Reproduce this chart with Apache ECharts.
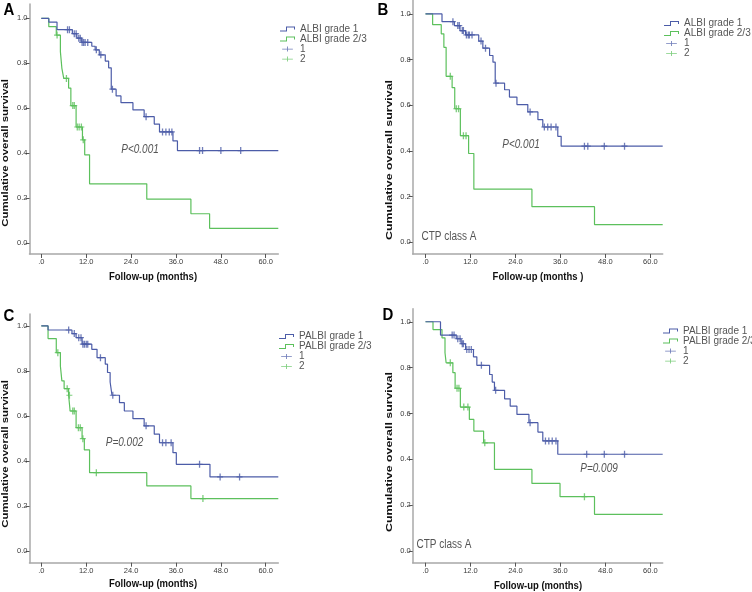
<!DOCTYPE html>
<html><head><meta charset="utf-8">
<script src="https://cdn.jsdelivr.net/npm/echarts@6/dist/echarts.min.js"></script>
<style>html,body{margin:0;padding:0;background:#fff}#c{width:752px;height:592px}</style>
</head><body><div id="c"></div>
<script>
// ---------- tick labels ----------
const xTicks = [0, 12, 24, 36, 48, 60];
const yTicks = [0, 0.2, 0.4, 0.6, 0.8, 1.0];

// ---------- Panel A (ALBI) ----------
const A_g1_t = [0, 2.0, 4.2, 8.3, 9.5, 10.8, 13.5, 14.4, 15.5, 17.1, 18.0, 18.7, 20.0, 21.3, 24.5, 27.5, 30.2, 31.6, 35.2, 36.4];
const A_g1_s = [1.0, 0.983, 0.95, 0.932, 0.912, 0.893, 0.876, 0.86, 0.838, 0.81, 0.78, 0.685, 0.655, 0.625, 0.593, 0.563, 0.53, 0.495, 0.455, 0.412];
const A_g1_ct = [7.0, 7.5, 8.8, 9.3, 10.0, 10.4, 10.9, 11.3, 11.7, 12.4, 14.7, 15.9, 19.0, 28.0, 32.4, 33.3, 34.2, 34.9, 42.3, 43.1, 48.0, 53.3];
const A_g1_cs = [0.95, 0.95, 0.932, 0.932, 0.912, 0.912, 0.893, 0.893, 0.893, 0.893, 0.86, 0.838, 0.685, 0.563, 0.495, 0.495, 0.495, 0.495, 0.412, 0.412, 0.412, 0.412];
const A_g2_t = [0, 2.0, 4.0, 5.1, 5.5, 6.0, 7.3, 7.9, 9.3, 11.0, 11.6, 12.9, 28.2, 40.0, 45.0];
const A_g2_s = [1.0, 0.963, 0.926, 0.852, 0.778, 0.733, 0.69, 0.612, 0.517, 0.46, 0.393, 0.264, 0.196, 0.131, 0.066];
const A_g2_ct = [4.2, 6.7, 8.4, 8.8, 9.6, 10.1, 10.7, 11.2];
const A_g2_cs = [0.926, 0.733, 0.612, 0.612, 0.517, 0.517, 0.517, 0.46];

// ---------- Panel B (ALBI, CTP class A) ----------
const B_g1_t = [0, 4.4, 7.7, 9.2, 10.7, 14.2, 15.3, 17.1, 18.0, 18.6, 21.1, 22.4, 24.4, 27.3, 30.0, 31.3, 35.3, 36.2];
const B_g1_s = [1.0, 0.966, 0.949, 0.927, 0.908, 0.881, 0.85, 0.818, 0.789, 0.697, 0.668, 0.636, 0.603, 0.571, 0.537, 0.505, 0.464, 0.421];
const B_g1_ct = [7.3, 8.6, 9.0, 9.8, 10.1, 10.9, 11.4, 11.7, 12.4, 14.8, 16.0, 18.8, 27.9, 31.7, 32.6, 33.5, 34.8, 42.4, 43.3, 47.7, 53.1];
const B_g1_cs = [0.966, 0.949, 0.949, 0.927, 0.927, 0.908, 0.908, 0.908, 0.908, 0.881, 0.85, 0.697, 0.571, 0.505, 0.505, 0.505, 0.505, 0.421, 0.421, 0.421, 0.421];
const B_g2_t = [0, 1.9, 4.2, 4.9, 5.5, 7.1, 7.8, 9.3, 11.5, 12.9, 28.4, 45.1];
const B_g2_s = [1.0, 0.953, 0.913, 0.854, 0.727, 0.677, 0.585, 0.467, 0.389, 0.233, 0.156, 0.078];
const B_g2_ct = [6.6, 8.2, 8.8, 10.1, 10.8];
const B_g2_cs = [0.727, 0.585, 0.585, 0.467, 0.467];

// ---------- Panel C (PALBI) ----------
const C_g1_t = [0, 1.8, 8.2, 9.3, 10.9, 13.5, 14.9, 17.1, 17.7, 18.4, 18.9, 20.9, 22.2, 24.5, 27.5, 30.2, 31.6, 35.2, 36.1, 45.1];
const C_g1_s = [1.0, 0.982, 0.966, 0.948, 0.919, 0.896, 0.859, 0.83, 0.793, 0.751, 0.692, 0.659, 0.622, 0.588, 0.556, 0.519, 0.481, 0.437, 0.385, 0.329];
const C_g1_ct = [7.3, 8.8, 10.0, 10.6, 11.1, 11.5, 12.0, 12.4, 15.8, 19.1, 28.0, 32.4, 33.3, 34.7, 42.3, 47.8, 53.0];
const C_g1_cs = [0.982, 0.966, 0.948, 0.948, 0.919, 0.919, 0.919, 0.919, 0.859, 0.692, 0.556, 0.481, 0.481, 0.481, 0.385, 0.329, 0.329];
const C_g2_t = [0, 1.8, 4.0, 5.1, 5.5, 6.1, 7.3, 7.7, 9.3, 10.9, 11.5, 12.9, 28.2, 40.0];
const C_g2_s = [1.0, 0.944, 0.881, 0.822, 0.756, 0.721, 0.692, 0.622, 0.548, 0.499, 0.449, 0.348, 0.289, 0.233];
const C_g2_ct = [4.4, 6.9, 7.5, 8.4, 8.8, 9.9, 10.4, 11.1, 14.7, 43.2];
const C_g2_cs = [0.881, 0.721, 0.692, 0.622, 0.622, 0.548, 0.548, 0.499, 0.348, 0.233];

// ---------- Panel D (PALBI, CTP class A) ----------
const D_g1_t = [0, 4.0, 8.2, 9.5, 10.7, 12.8, 13.7, 17.1, 17.8, 18.4, 21.1, 22.6, 24.4, 27.6, 30.0, 31.3, 35.3];
const D_g1_s = [1.0, 0.942, 0.926, 0.904, 0.879, 0.847, 0.81, 0.77, 0.737, 0.701, 0.664, 0.632, 0.596, 0.56, 0.519, 0.48, 0.422];
const D_g1_ct = [7.1, 7.6, 8.6, 9.2, 9.8, 10.1, 11.0, 11.6, 12.2, 14.9, 18.7, 27.9, 32.0, 32.9, 33.8, 34.8, 43.0, 47.7, 53.1];
const D_g1_cs = [0.942, 0.942, 0.926, 0.926, 0.904, 0.904, 0.879, 0.879, 0.879, 0.81, 0.701, 0.56, 0.48, 0.48, 0.48, 0.48, 0.422, 0.422, 0.422];
const D_g2_t = [0, 2.0, 4.4, 5.2, 5.5, 7.3, 7.9, 9.3, 11.7, 12.9, 15.5, 18.4, 28.4, 35.9, 45.1];
const D_g2_s = [1.0, 0.966, 0.93, 0.865, 0.821, 0.778, 0.71, 0.628, 0.574, 0.523, 0.472, 0.356, 0.295, 0.237, 0.16];
const D_g2_ct = [6.6, 8.4, 8.9, 10.2, 11.3, 15.8, 42.4];
const D_g2_cs = [0.821, 0.71, 0.71, 0.628, 0.628, 0.472, 0.237];

// ---------- labels ----------
const albiNames = ['ALBI grade 1', 'ALBI grade 2/3'];
const palbiNames = ['PALBI grade 1', 'PALBI grade 2/3'];
const censorNames = ['1', '2'];
const pTexts = { A: 'P<0.001', B: 'P<0.001', C: 'P=0.002', D: 'P=0.009' };
const xTitle = 'Follow-up (months)';
const xTitleB = 'Follow-up (months )';
const yTitle = 'Cumulative overall survival';
const ctpText = 'CTP class A';

// ---------- styling / layout ----------
const BLUE = '#4c5ca8';
const GREEN = '#5cc05c';
const FONT = 'Arial, "Liberation Sans", sans-serif';
const TXT = '#3a3a3a';
const plusSym = 'path://M2.4,0h1.3v7h-1.3z M0,2.9h6v1.2h-6z';
const stepIcon = 'path://M0,4L6,4L6,0L15,0L15,3L14,3L14,1L7,1L7,5L0,5Z';
const plusIcon = 'path://M0,3h15v1.1h-15z M6.9,0h1.2v7h-1.2z';

const panels = [
  { key: 'A', grid: { left: 29.5, top: 4, width: 248.8, height: 250 }, xMin: -3.16, xMax: 63.37, yMin: -0.048, yMax: 1.064,
    names: albiNames, g1: [A_g1_t, A_g1_s, A_g1_ct, A_g1_cs], g2: [A_g2_t, A_g2_s, A_g2_ct, A_g2_cs],
    legend: { left: 280, top: 24 }, letter: [9, 10], p: [140, 150], xt: [153, 277, xTitle], yt: [5, 153, 1.2], ctp: null },
  { key: 'B', grid: { left: 412.7, top: 0, width: 250, height: 254 }, xMin: -3.42, xMax: 63.3, yMin: -0.051, yMax: 1.061,
    names: albiNames, g1: [B_g1_t, B_g1_s, B_g1_ct, B_g1_cs], g2: [B_g2_t, B_g2_s, B_g2_ct, B_g2_cs],
    legend: { left: 664, top: 18.5 }, letter: [383, 10], p: [521, 145], xt: [538, 277, xTitleB], yt: [389, 160, 1.3], ctp: [449, 237] },
  { key: 'C', grid: { left: 29.5, top: 314, width: 248.8, height: 248.7 }, xMin: -3.16, xMax: 63.37, yMin: -0.052, yMax: 1.053,
    names: palbiNames, g1: [C_g1_t, C_g1_s, C_g1_ct, C_g1_cs], g2: [C_g2_t, C_g2_s, C_g2_ct, C_g2_cs],
    legend: { left: 279, top: 331.5 }, letter: [9, 316], p: [124.5, 442.5], xt: [153, 584, xTitle], yt: [5, 454, 1.2], ctp: null },
  { key: 'D', grid: { left: 412.7, top: 308.7, width: 250, height: 254 }, xMin: -3.42, xMax: 63.3, yMin: -0.051, yMax: 1.057,
    names: palbiNames, g1: [D_g1_t, D_g1_s, D_g1_ct, D_g1_cs], g2: [D_g2_t, D_g2_s, D_g2_ct, D_g2_cs],
    legend: { left: 663, top: 326 }, letter: [388, 315], p: [599, 469], xt: [538, 586, xTitle], yt: [389, 452, 1.3], ctp: [444, 545] }
];

const zip = (a, b) => a.map((v, i) => [v, b[i]]);

const grids = [], xAxes = [], yAxes = [], series = [], legends = [], graphics = [];
panels.forEach((p, i) => {
  grids.push(Object.assign({ outerBoundsMode: 'none', containLabel: false }, p.grid));
  xAxes.push({
    type: 'value', gridIndex: i, min: p.xMin, max: p.xMax,
    axisLine: { show: true, onZero: false, lineStyle: { color: '#a8a8a8', width: 1.5 } },
    axisTick: { show: true, length: 4, customValues: xTicks, lineStyle: { color: '#555', width: 1 } },
    axisLabel: { show: true, customValues: xTicks, margin: 4, fontSize: 7.5, color: TXT, fontFamily: FONT,
      formatter: v => (v === 0 ? '.0' : v.toFixed(1)) },
    splitLine: { show: false }
  });
  yAxes.push({
    type: 'value', gridIndex: i, min: p.yMin, max: p.yMax,
    axisLine: { show: true, onZero: false, lineStyle: { color: '#a8a8a8', width: 1.5 } },
    axisTick: { show: true, length: 4, customValues: yTicks, lineStyle: { color: '#555', width: 1 } },
    axisLabel: { show: true, customValues: yTicks, margin: 2, fontSize: 7.5, color: TXT, fontFamily: FONT,
      formatter: v => v.toFixed(1) },
    splitLine: { show: false }
  });
  [[p.g2, GREEN, p.names[1], censorNames[1]], [p.g1, BLUE, p.names[0], censorNames[0]]].forEach(([g, col, nm, cn]) => {
    const pts = zip(g[0], g[1]);
    pts.push([p.xMax, g[1][g[1].length - 1]]);
    series.push({ type: 'line', name: nm, xAxisIndex: i, yAxisIndex: i, step: 'end', data: pts,
      showSymbol: false, symbol: 'none', color: col, lineStyle: { color: col, width: 1.2 }, silent: true, z: 2 });
    series.push({ type: 'scatter', name: cn, xAxisIndex: i, yAxisIndex: i, data: zip(g[2], g[3]),
      symbol: plusSym, symbolSize: [6, 7], color: col, itemStyle: { color: col }, silent: true, z: 3 });
  });
  legends.push({
    orient: 'vertical', left: p.legend.left, top: p.legend.top, selectedMode: false,
    itemWidth: 15, itemHeight: 5, itemGap: 0, itemTextGap: 2, padding: 0,
    textStyle: { fontSize: 10, color: '#555', fontFamily: FONT, lineHeight: 9.7 },
    data: [
      { name: p.names[0], icon: stepIcon, itemStyle: { color: BLUE } },
      { name: p.names[1], icon: stepIcon, itemStyle: { color: GREEN } },
      { name: censorNames[0], icon: plusIcon, itemStyle: { color: BLUE } },
      { name: censorNames[1], icon: plusIcon, itemStyle: { color: GREEN } }
    ]
  });
  graphics.push({ type: 'text', x: p.letter[0], y: p.letter[1], scaleY: 1.1,
    style: { text: p.key, font: 'bold 15px ' + FONT, fill: '#000', align: 'center', verticalAlign: 'middle' } });
  graphics.push({ type: 'text', x: p.p[0], y: p.p[1], scaleY: 1.2,
    style: { text: pTexts[p.key], font: 'italic 10px ' + FONT, fill: '#555', align: 'center', verticalAlign: 'middle' } });
  graphics.push({ type: 'text', x: p.xt[0], y: p.xt[1], scaleY: 1.2,
    style: { text: p.xt[2], font: 'bold 9.5px ' + FONT, fill: '#111', align: 'center', verticalAlign: 'middle' } });
  graphics.push({ type: 'text', x: p.yt[0], y: p.yt[1], rotation: Math.PI / 2, scaleX: p.yt[2],
    style: { text: yTitle, font: 'bold 9.5px ' + FONT, fill: '#111', align: 'center', verticalAlign: 'middle' } });
  if (p.ctp) {
    graphics.push({ type: 'text', x: p.ctp[0], y: p.ctp[1], scaleY: 1.2,
      style: { text: ctpText, font: '10px ' + FONT, fill: '#555', align: 'center', verticalAlign: 'middle' } });
  }
});

const chart = echarts.init(document.getElementById('c'), null, { renderer: 'canvas' });
chart.setOption({
  animation: false,
  backgroundColor: '#fff',
  grid: grids, xAxis: xAxes, yAxis: yAxes, legend: legends, series: series, graphic: graphics
});
</script>
</body></html>
